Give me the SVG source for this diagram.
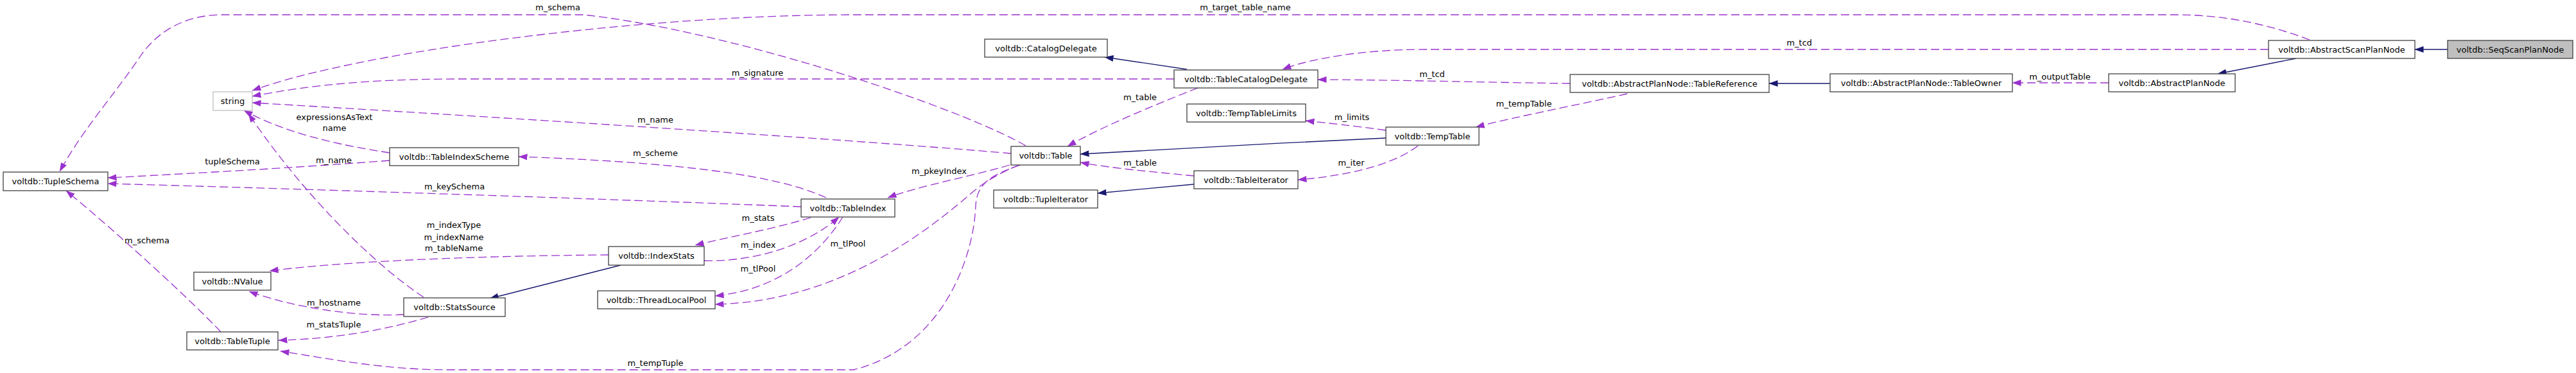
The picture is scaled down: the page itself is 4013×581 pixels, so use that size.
<svg xmlns="http://www.w3.org/2000/svg" width="4013" height="581" viewBox="0 0 4013 581">
<style>
.n rect{fill:#ffffff;stroke:#404040;stroke-width:1.3}
.n text,.lbl text{font-family:"DejaVu Sans",sans-serif;font-size:13px;fill:#000000;text-anchor:middle}
.e path{fill:none;stroke:#9a32cd;stroke-width:1.3;stroke-dasharray:13,6}
.i path{fill:none;stroke:#191970;stroke-width:1.3}
</style>
<defs>
<marker id="ap" markerUnits="userSpaceOnUse" markerWidth="14" markerHeight="11" viewBox="0 0 14 11" refX="13.5" refY="5.5" orient="auto"><path d="M0,0.5 L14,5.5 L0,10.5 z" fill="#9a32cd" stroke="none"/></marker>
<marker id="an" markerUnits="userSpaceOnUse" markerWidth="14" markerHeight="11" viewBox="0 0 14 11" refX="13.5" refY="5.5" orient="auto"><path d="M0,0.5 L14,5.5 L0,10.5 z" fill="#191970" stroke="none"/></marker>
</defs>
<rect width="4013" height="581" fill="#ffffff"/>
<g id="connectors">
<g class="i">
<path d="M3813,77 L3762,77" marker-end="url(#an)"/>
<path d="M3577,91 L3455,115" marker-end="url(#an)"/>
<path d="M2851,130 L2756,130" marker-end="url(#an)"/>
<path d="M967,413 L763,465" marker-end="url(#an)"/>
<path d="M1849,108 L1721,89" marker-end="url(#an)"/>
<path d="M2159,215 C2000,222 1800,234 1683,240" marker-end="url(#an)"/>
<path d="M1860,287 L1710,301" marker-end="url(#an)"/>
</g>
<g class="e">
<path d="M3285,129 L3135,129" marker-end="url(#ap)"/>
<path d="M2446,130 C2300,128 2150,124 2053,124" marker-end="url(#ap)"/>
<path d="M2535,146 C2450,165 2360,182 2299,198" marker-end="url(#ap)"/>
<path d="M3534,77 L2220,77 C2120,77 2040,92 1998,108" marker-end="url(#ap)"/>
<path d="M3598,62 C3540,40 3470,23 3390,23 L1330,23 C1000,23 560,80 393,141" marker-end="url(#ap)"/>
<path d="M1829,123 L720,123 C560,123 470,135 393,150" marker-end="url(#ap)"/>
<path d="M1575,239 C1300,215 700,178 393,160" marker-end="url(#ap)"/>
<path d="M607,238 C520,225 440,205 380,172" marker-end="url(#ap)"/>
<path d="M660,463 C580,410 470,300 387,177" marker-end="url(#ap)"/>
<path d="M607,250 C450,262 300,270 168,277" marker-end="url(#ap)"/>
<path d="M1248,322 C1000,312 500,295 168,286" marker-end="url(#ap)"/>
<path d="M1598,227 C1500,170 1150,50 910,23 L347,23 C300,23 250,40 217,90 C180,145 130,200 93,267" marker-end="url(#ap)"/>
<path d="M344,517 C300,470 180,360 103,297" marker-end="url(#ap)"/>
<path d="M1287,308 C1230,282 1120,255 808,244" marker-end="url(#ap)"/>
<path d="M1573,257 C1520,273 1430,290 1383,308" marker-end="url(#ap)"/>
<path d="M1263,339 C1200,358 1130,370 1083,382" marker-end="url(#ap)"/>
<path d="M1097,406 C1180,408 1260,380 1307,338" marker-end="url(#ap)"/>
<path d="M1313,338 C1280,390 1220,450 1114,461" marker-end="url(#ap)"/>
<path d="M1587,257 C1545,275 1525,290 1505,308 C1420,380 1290,470 1114,474" marker-end="url(#ap)"/>
<path d="M1590,257 C1545,272 1522,285 1520,320 C1517,400 1470,540 1330,576 L700,576 C600,576 520,560 437,547" marker-end="url(#ap)"/>
<path d="M948,397 C800,398 560,404 420,422" marker-end="url(#ap)"/>
<path d="M629,490 C560,494 460,480 388,454" marker-end="url(#ap)"/>
<path d="M667,494 C600,514 520,528 434,530" marker-end="url(#ap)"/>
<path d="M1866,137 C1820,155 1720,195 1663,228" marker-end="url(#ap)"/>
<path d="M2159,203 C2110,196 2070,192 2034,188" marker-end="url(#ap)"/>
<path d="M1860,274 C1800,268 1730,262 1683,253" marker-end="url(#ap)"/>
<path d="M2209,227 C2180,250 2120,272 2022,280" marker-end="url(#ap)"/>
</g>
<g class="lbl">
<text x="3209" y="123.5">m_outputTable</text>
<text x="2231" y="120">m_tcd</text>
<text x="2374" y="166">m_tempTable</text>
<text x="2803" y="71">m_tcd</text>
<text x="1940" y="16">m_target_table_name</text>
<text x="1180" y="118">m_signature</text>
<text x="1021" y="191">m_name</text>
<text x="521" y="187">expressionsAsText</text>
<text x="521" y="204">name</text>
<text x="520" y="254">m_name</text>
<text x="362" y="256">tupleSchema</text>
<text x="708" y="295">m_keySchema</text>
<text x="869" y="16">m_schema</text>
<text x="229" y="379">m_schema</text>
<text x="1021" y="243">m_scheme</text>
<text x="1463" y="271">m_pkeyIndex</text>
<text x="1181" y="344">m_stats</text>
<text x="1181" y="386">m_index</text>
<text x="1181" y="423">m_tlPool</text>
<text x="1321" y="384">m_tlPool</text>
<text x="1021" y="570">m_tempTuple</text>
<text x="707" y="355">m_indexType</text>
<text x="707" y="374">m_indexName</text>
<text x="707" y="391">m_tableName</text>
<text x="520" y="476">m_hostname</text>
<text x="520" y="510">m_statsTuple</text>
<text x="1776" y="156">m_table</text>
<text x="2106" y="187">m_limits</text>
<text x="1776" y="258">m_table</text>
<text x="2105" y="258">m_iter</text>
</g>
</g>
<g id="SeqScanPlanNode" class="n"><rect x="3813" y="63" width="195" height="28" style="fill:#bfbfbf"/><text x="3910.5" y="81.5">voltdb::SeqScanPlanNode</text></g>
<g id="AbstractScanPlanNode" class="n"><rect x="3534" y="63" width="228" height="28"/><text x="3648" y="81.5">voltdb::AbstractScanPlanNode</text></g>
<g id="AbstractPlanNode" class="n"><rect x="3285" y="115" width="197" height="28"/><text x="3383.5" y="133.5">voltdb::AbstractPlanNode</text></g>
<g id="TableOwner" class="n"><rect x="2851" y="115" width="284" height="28"/><text x="2993" y="133.5">voltdb::AbstractPlanNode::TableOwner</text></g>
<g id="TableReference" class="n"><rect x="2446" y="116" width="310" height="28"/><text x="2601" y="134.5">voltdb::AbstractPlanNode::TableReference</text></g>
<g id="TableCatalogDelegate" class="n"><rect x="1829" y="109" width="224" height="28"/><text x="1941" y="127.5">voltdb::TableCatalogDelegate</text></g>
<g id="CatalogDelegate" class="n"><rect x="1534" y="61" width="191" height="28"/><text x="1629.5" y="79.5">voltdb::CatalogDelegate</text></g>
<g id="TempTableLimits" class="n"><rect x="1849" y="162" width="185" height="28"/><text x="1941.5" y="180.5">voltdb::TempTableLimits</text></g>
<g id="TempTable" class="n"><rect x="2159" y="198" width="145" height="28"/><text x="2231.5" y="216.5">voltdb::TempTable</text></g>
<g id="Table" class="n"><rect x="1575" y="228" width="108" height="29"/><text x="1629" y="247">voltdb::Table</text></g>
<g id="TableIterator" class="n"><rect x="1860" y="266" width="162" height="28"/><text x="1941" y="284.5">voltdb::TableIterator</text></g>
<g id="TupleIterator" class="n"><rect x="1548" y="296" width="162" height="28"/><text x="1629" y="314.5">voltdb::TupleIterator</text></g>
<g id="TableIndex" class="n"><rect x="1248" y="310" width="146" height="28"/><text x="1321" y="328.5">voltdb::TableIndex</text></g>
<g id="IndexStats" class="n"><rect x="948" y="384" width="149" height="29"/><text x="1022.5" y="403">voltdb::IndexStats</text></g>
<g id="ThreadLocalPool" class="n"><rect x="931" y="453" width="183" height="28"/><text x="1022.5" y="471.5">voltdb::ThreadLocalPool</text></g>
<g id="StatsSource" class="n"><rect x="629" y="464" width="158" height="29"/><text x="708" y="483">voltdb::StatsSource</text></g>
<g id="TableIndexScheme" class="n"><rect x="607" y="230" width="201" height="28"/><text x="707.5" y="248.5">voltdb::TableIndexScheme</text></g>
<g id="string" class="n"><rect x="332" y="143" width="61" height="29" style="stroke:#bfbfbf"/><text x="362.5" y="162">string</text></g>
<g id="TupleSchema" class="n"><rect x="5" y="268" width="163" height="29"/><text x="86.5" y="287">voltdb::TupleSchema</text></g>
<g id="NValue" class="n"><rect x="302" y="424" width="120" height="28"/><text x="362" y="442.5">voltdb::NValue</text></g>
<g id="TableTuple" class="n"><rect x="291" y="517" width="142" height="28"/><text x="362" y="535.5">voltdb::TableTuple</text></g>
</svg>
